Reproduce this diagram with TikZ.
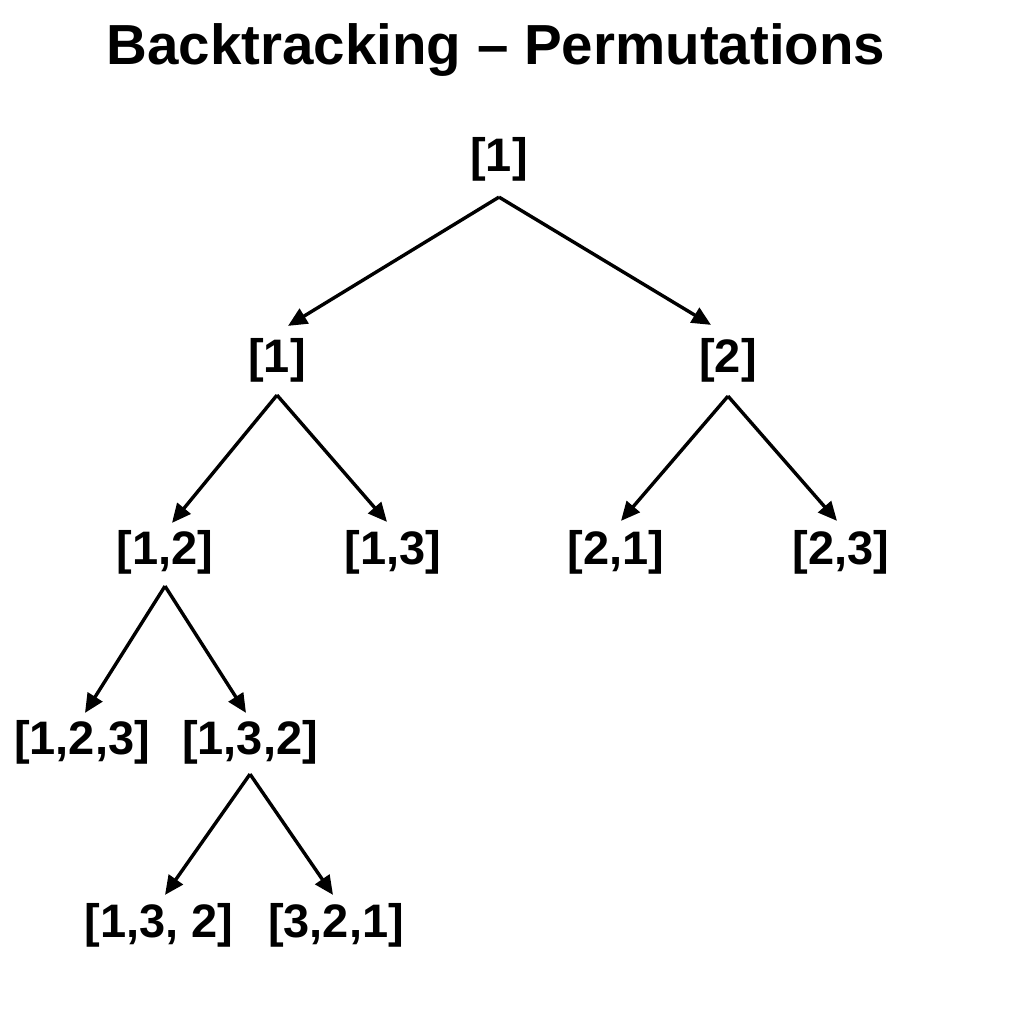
\documentclass[tikz,border=0pt]{standalone}
\usepackage{fontspec}
\setmainfont{Liberation Sans}
\usetikzlibrary{arrows.meta}
\tikzset{
  lbl/.style={inner sep=0pt, font=\fontsize{47}{52}\selectfont\bfseries},
  ttl/.style={inner sep=0pt, anchor=base, font=\fontsize{56.5}{62}\selectfont\bfseries},
  arr/.style={line width=3.4pt, -{Triangle[length=19pt,width=17pt]}}
}
\begin{document}
\begin{tikzpicture}[x=1pt,y=1pt]
\useasboundingbox[fill=white] (0,0) rectangle (1024,-1024);
\node[ttl] (title) at (496,-65) {Backtracking – Permutations};
\node[lbl] (r)   at (499,-159) {[1]};
\node[lbl] (a)   at (277,-360) {[1]};
\node[lbl] (b)   at (728,-360) {[2]};
\node[lbl] (a1)  at (165,-552) {[1,2]};
\node[lbl] (a2)  at (393,-552) {[1,3]};
\node[lbl] (b1)  at (616,-552) {[2,1]};
\node[lbl] (b2)  at (841,-552) {[2,3]};
\node[lbl] (c1)  at (82,-742)  {[1,2,3]};
\node[lbl] (c2)  at (250,-742) {[1,3,2]};
\node[lbl] (d1)  at (159,-925) {[1,3, 2]};
\node[lbl] (d2)  at (336,-925) {[3,2,1]};
\draw[arr] ([yshift=-16pt]r.south) -- ([xshift=11pt,yshift=12pt]a.north);
\draw[arr] ([yshift=-16pt]r.south) -- ([xshift=-17pt,yshift=13pt]b.north);
\draw[arr] ([yshift=-13pt]a.south) -- ([xshift=7pt,yshift=7pt]a1.north);
\draw[arr] ([yshift=-13pt]a.south) -- ([xshift=-6pt,yshift=8pt]a2.north);
\draw[arr] ([yshift=-14pt]b.south) -- ([xshift=5pt,yshift=9pt]b1.north);
\draw[arr] ([yshift=-14pt]b.south) -- ([xshift=-4pt,yshift=9pt]b2.north);
\draw[arr] ([yshift=-12pt]a1.south) -- ([xshift=3pt,yshift=7pt]c1.north);
\draw[arr] ([yshift=-12pt]a1.south) -- ([xshift=-4pt,yshift=7pt]c2.north);
\draw[arr] ([yshift=-10pt]c2.south) -- ([xshift=6pt,yshift=8pt]d1.north);
\draw[arr] ([yshift=-10pt]c2.south) -- ([xshift=-3pt,yshift=8pt]d2.north);
\end{tikzpicture}
\end{document}
